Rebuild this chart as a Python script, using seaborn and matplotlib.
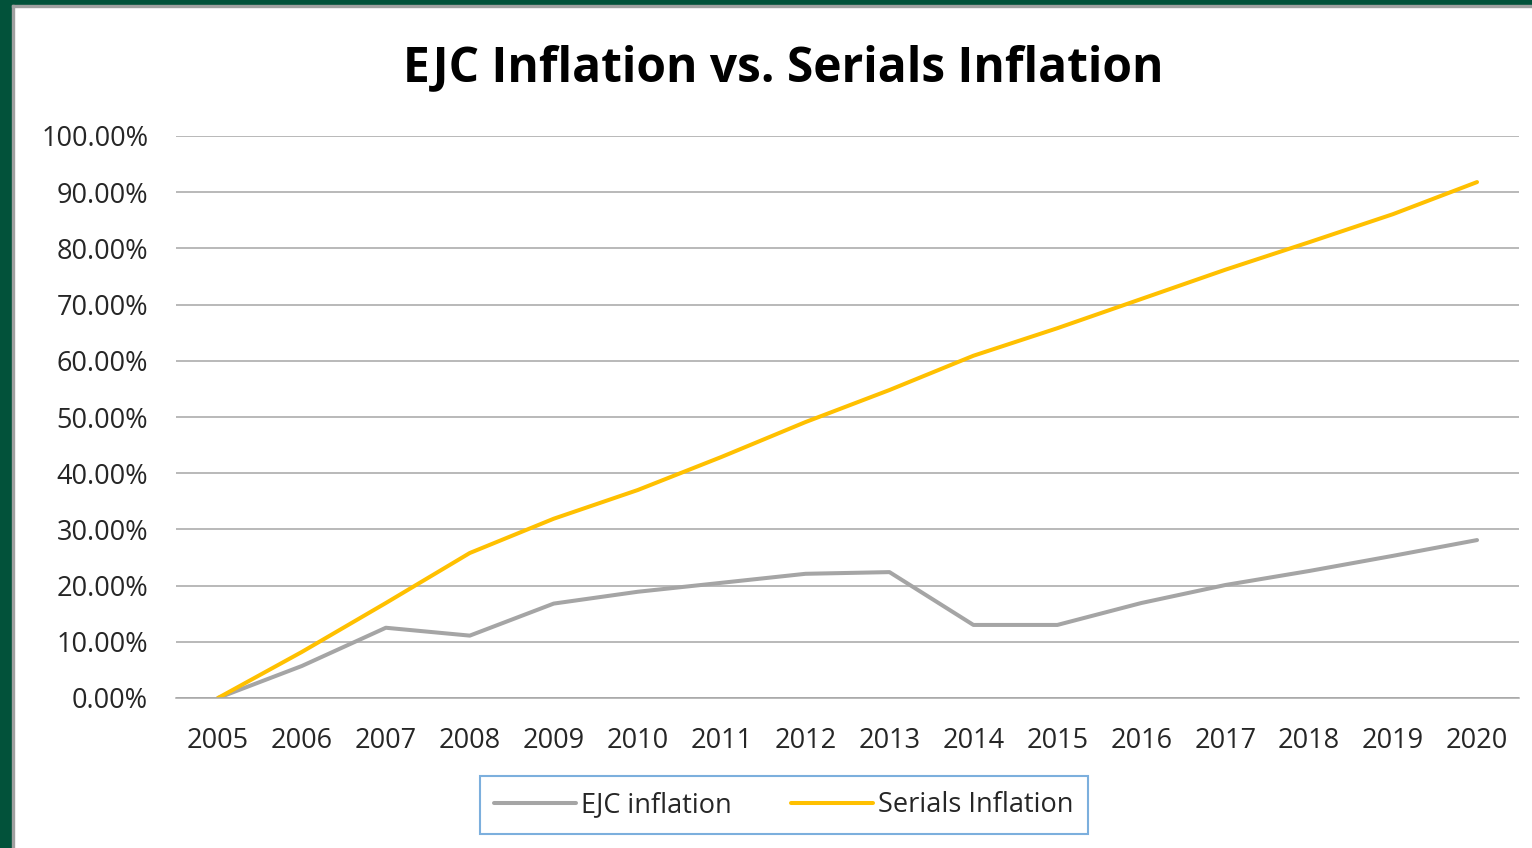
import matplotlib
matplotlib.use("Agg")
import matplotlib.pyplot as plt
import matplotlib.patches as mpatches
import seaborn as sns
import pandas as pd
from matplotlib.ticker import FuncFormatter

years = list(range(2005, 2021))
ejc_inflation = [0.0, 5.7, 12.5, 11.1, 16.8, 18.9, 20.5, 22.1, 22.4, 13.0, 13.0, 16.9, 20.1, 22.6, 25.3, 28.1]
serials_inflation = [0.0, 8.2, 16.9, 25.8, 31.9, 37.0, 42.9, 49.1, 54.8, 60.9, 65.8, 71.0, 76.2, 81.1, 86.1, 91.8]
series_names = ["EJC inflation", "Serials Inflation"]
y_ticks = [0, 10, 20, 30, 40, 50, 60, 70, 80, 90, 100]

df = pd.DataFrame({
    "idx": list(range(len(years))) * 2,
    "value": ejc_inflation + serials_inflation,
    "series": [series_names[0]] * len(years) + [series_names[1]] * len(years),
})

sns.set_theme(style="white")
plt.rcParams['font.family'] = ['Open Sans', 'DejaVu Sans']

fig = plt.figure(figsize=(15.32, 8.48), dpi=100)
fig.patch.set_facecolor("white")

# Green frame (left and top)
fig.patches.append(mpatches.Rectangle((0, 0), 12 / 1532, 1, transform=fig.transFigure,
                                      color="#02523A", zorder=0))
fig.patches.append(mpatches.Rectangle((0, 1 - 5 / 848), 1, 5 / 848, transform=fig.transFigure,
                                      color="#02523A", zorder=0))
fig.patches.append(mpatches.Rectangle((12 / 1532, 1 - 7 / 848), 1, 2 / 848, transform=fig.transFigure,
                                      color="#A0A0A0", zorder=0))
fig.patches.append(mpatches.Rectangle((12 / 1532, 0), 2 / 1532, 1 - 5 / 848, transform=fig.transFigure,
                                      color="#A0A0A0", zorder=0))

ax = fig.add_axes([176 / 1532, 1 - 698 / 848, (1519 - 176) / 1532, (698 - 136) / 848])
sns.lineplot(data=df, x="idx", y="value", hue="series",
             palette={series_names[0]: "#A5A5A5", series_names[1]: "#FFC000"},
             linewidth=2.9, ax=ax, legend=False)

ax.set_xlim(-0.5, len(years) - 0.5)
ax.set_ylim(0, 100)
ax.set_yticks(y_ticks)
ax.yaxis.set_major_formatter(FuncFormatter(lambda v, p: f"{v:.2f}%"))
ax.set_xticks(range(len(years)))
ax.set_xticklabels([str(y) for y in years])
ax.grid(axis="y", color="#A6A6A6", linewidth=1.1)
ax.set_axisbelow(True)
for s in ["top", "right", "left"]:
    ax.spines[s].set_visible(False)
ax.spines["bottom"].set_color("#A6A6A6")
ax.spines["bottom"].set_linewidth(1.1)
ax.tick_params(axis="both", length=0, labelsize=19.5, colors="#262626")
ax.tick_params(axis="x", pad=21)
ax.tick_params(axis="y", pad=20)
ax.set_xlabel("")
ax.set_ylabel("")

fig.text(783 / 1532, 1 - 69 / 848, "EJC Inflation vs. Serials Inflation", ha="center", va="center",
         fontsize=34.5, fontweight="bold", color="black")

handles = [plt.Line2D([], [], color="#A5A5A5", lw=2.9), plt.Line2D([], [], color="#FFC000", lw=2.9)]
leg = fig.legend(handles, series_names, loc="center", bbox_to_anchor=(784 / 1532, 1 - 805 / 848),
                 ncol=2, frameon=True, fontsize=19.5, handlelength=3.0, handletextpad=0.2,
                 columnspacing=2.2, borderpad=0.55, borderaxespad=0, fancybox=False)
leg.get_frame().set_edgecolor("#5B9BD5")
leg.get_frame().set_linewidth(1.5)
for t in leg.get_texts():
    t.set_color("#262626")

fig.savefig("out.png", dpi=100, facecolor="white")
